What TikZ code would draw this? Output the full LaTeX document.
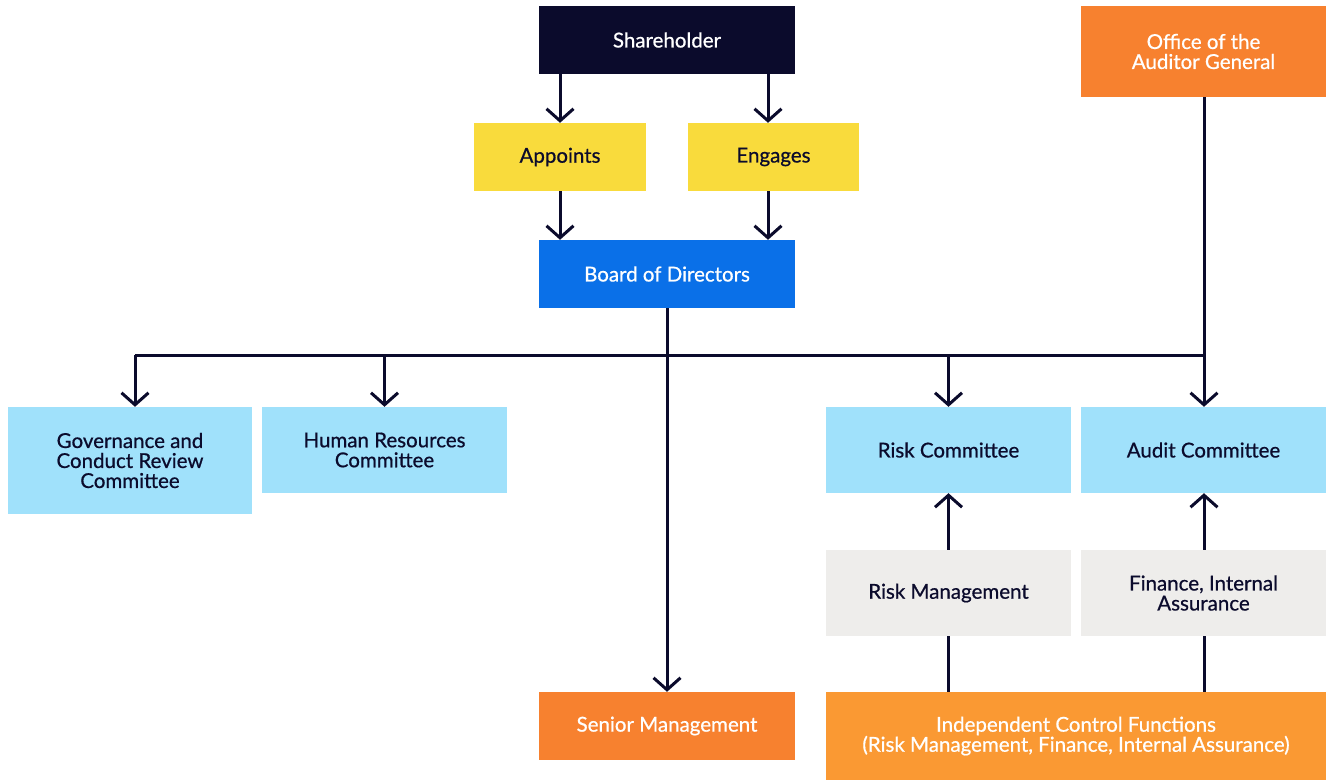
\documentclass[tikz,border=0pt]{standalone}
\usepackage{fontspec}
\setmainfont{Lato}[FakeBold=0.7]
\usetikzlibrary{arrows.meta}
\definecolor{navy}{HTML}{0B0B2C}
\definecolor{boxyellow}{HTML}{F9DB3C}
\definecolor{boxblue}{HTML}{0A70E8}
\definecolor{lightblue}{HTML}{A0E1FB}
\definecolor{lightgray}{HTML}{EEEDEB}
\definecolor{orangeA}{HTML}{F7812F}
\definecolor{orangeB}{HTML}{FA9933}
\tikzset{
  box/.style={inner sep=0pt, align=center, font=\fontsize{20.5}{20}\selectfont},
  arr/.style={draw=navy, line width=3pt, -{Straight Barb[length=12pt,width=27pt,line width=3pt]}},
  ln/.style={draw=navy, line width=3pt},
}
\begin{document}
\begin{tikzpicture}[x=1pt,y=-1pt]
\useasboundingbox (0,0) rectangle (1328,780);
\node[box, fill=navy, text=white, minimum width=256pt, minimum height=68pt] (sh) at (667,40) {Shareholder};
\node[box, fill=orangeA, text=white, minimum width=245pt, minimum height=91pt] (oag) at (1203.5,51.5) {Office of the\\Auditor General};
\node[box, fill=boxyellow, text=navy, minimum width=172pt, minimum height=68pt] (app) at (560,157) {Appoints};
\node[box, fill=boxyellow, text=navy, minimum width=171pt, minimum height=68pt] (eng) at (773.5,157) {Engages};
\node[box, fill=boxblue, text=white, minimum width=256pt, minimum height=68pt] (bod) at (667,274) {Board of Directors};
\node[box, fill=lightblue, text=navy, minimum width=244pt, minimum height=107pt] (gov) at (130,460.5) {Governance and\\Conduct Review\\Committee};
\node[box, fill=lightblue, text=navy, minimum width=245pt, minimum height=86pt] (hr) at (384.5,450) {Human Resources\\Committee};
\node[box, fill=lightblue, text=navy, minimum width=245pt, minimum height=86pt] (rc) at (948.5,450) {Risk Committee};
\node[box, fill=lightblue, text=navy, minimum width=245pt, minimum height=86pt] (ac) at (1203.5,450) {Audit Committee};
\node[box, fill=lightgray, text=navy, minimum width=245pt, minimum height=86pt] (rm) at (948.5,593) {Risk Management};
\node[box, fill=lightgray, text=navy, minimum width=245pt, minimum height=86pt] (fin) at (1203.5,593) {Finance, Internal\\Assurance};
\node[box, fill=orangeA, text=white, minimum width=256pt, minimum height=68pt] (sm) at (667,726) {Senior Management};
\node[box, fill=orangeB, text=white, minimum width=500pt, minimum height=88pt] (icf) at (1076,736) {Independent Control Functions\\(Risk Management, Finance, Internal Assurance)};
% junction coordinates
\coordinate (j) at (667,355);
\coordinate (jl) at (135,355);
\coordinate (jr) at (1204,355);
% shareholder arrows
\draw[arr] (sh.south -| app) -- (app.north);
\draw[arr] (sh.south -| 768,0) -- (eng.north -| 768,0);
\draw[arr] (app.south) -- (bod.north -| app);
\draw[arr] (eng.south -| 768,0) -- (bod.north -| 768,0);
% board distribution
\draw[ln] (jl) -- (jr);
\draw[arr] (bod.south) -- (sm.north);
\draw[arr] (jl) -- (gov.north -| jl);
\draw[arr] (hr.north |- j) -- (hr.north);
\draw[arr] (rc.north |- j) -- (rc.north);
\draw[arr] (oag.south -| jr) -- (ac.north -| jr);
% control functions
\draw[arr] (rm.north) -- (rc.south);
\draw[arr] (fin.north -| jr) -- (ac.south -| jr);
\draw[ln] (icf.north -| rm) -- (rm.south);
\draw[ln] (icf.north -| jr) -- (fin.south -| jr);
\end{tikzpicture}
\end{document}
